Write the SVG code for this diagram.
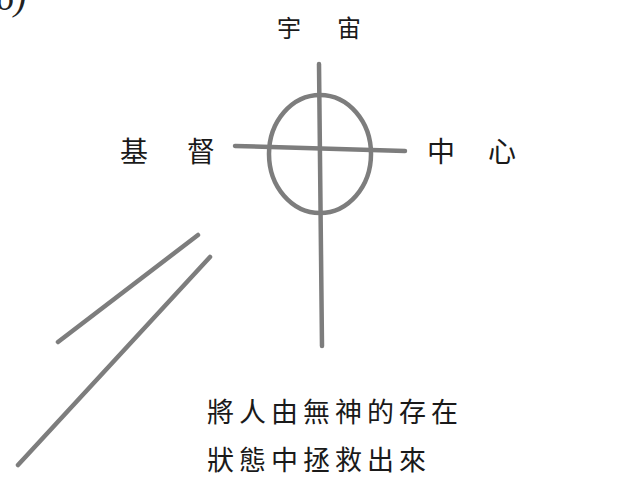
<svg xmlns="http://www.w3.org/2000/svg" width="632" height="477" viewBox="0 0 632 477">
<style>
.ln{fill:none;stroke:#7d7d7d;stroke-width:4.5;stroke-linecap:round}
.t{font-family:"Noto Sans CJK TC","Noto Sans CJK SC",sans-serif;fill:#1a1a1a;text-anchor:middle}
.s{font-family:"Noto Sans CJK TC","Noto Sans CJK SC",sans-serif;fill:#1a1a1a;font-size:27px;letter-spacing:5px}
</style>
<rect width="632" height="477" fill="#fff"/>
<text x="-4" y="10" font-family="Liberation Serif" font-style="italic" font-size="36" fill="#222">6)</text>
<g id="connectors">
<path class="ln" d="M319 64 L322 346"/>
<ellipse class="ln" cx="320" cy="154" rx="51" ry="59"/>
<path class="ln" d="M235 146 L405 151"/>
<path class="ln" d="M58 342 L198 235"/>
<path class="ln" d="M18 465 L210 257"/>
</g>
<g id="universe"><text class="t" x="289" y="37" font-size="24">宇</text><text class="t" x="349" y="37" font-size="24">宙</text></g>
<g id="christ"><text class="t" x="134" y="162" font-size="28">基</text><text class="t" x="201" y="162" font-size="28">督</text></g>
<g id="center"><text class="t" x="441" y="162" font-size="28">中</text><text class="t" x="502" y="162" font-size="28">心</text></g>
<g id="caption">
<text class="s" x="207" y="422">將人由無神的存在</text>
<text class="s" x="207" y="470">狀態中拯救出來</text>
</g>
</svg>
